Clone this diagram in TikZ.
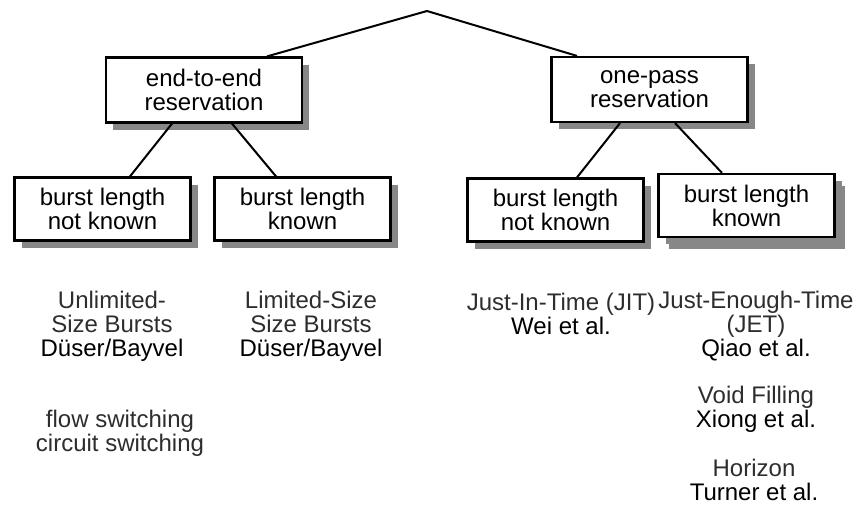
\documentclass[tikz,border=0pt]{standalone}
\usepackage{fontspec}
\setmainfont{Liberation Sans}
\definecolor{ShadowGray}{RGB}{135,135,135}
\definecolor{NoteGray}{RGB}{45,45,45}
\usetikzlibrary{positioning, calc, shadows}
\newcommand{\metodo}[1]{\textcolor{NoteGray}{#1}}

\begin{document}
\begin{tikzpicture}[x=0.5pt, y=-0.5pt, font=\fontsize{12}{12}\selectfont,
	bloque/.style={rectangle, draw=black, line width=1.1pt, fill=white, align=center, inner sep=0pt,
		minimum width=88pt, minimum height=31.5pt,
		general shadow={fill=ShadowGray, shadow xshift=3.5pt, shadow yshift=-3.5pt}},
	grande/.style={bloque, minimum width=98pt, minimum height=32.5pt},
	nota/.style={align=center, inner sep=0pt},
	rama/.style={line width=1pt}]
	\useasboundingbox (0,0) rectangle (854,504);
	\coordinate (r) at (427,11);
	% reservation types
	\node[grande] (e) at (204,90) {end-to-end\\reservation};
	\node[grande] (o) at (649.5,89.5) {one-pass\\reservation};
	% burst length
	\node[bloque] (e1) at (102.5,209) {burst length\\not known};
	\node[bloque] (e2) at (302.5,209) {burst length\\known};
	\node[bloque] (o1) at (555.5,210) {burst length\\not known};
	\node[bloque, general shadow={fill=ShadowGray, shadow xshift=5pt, shadow yshift=-6pt}] (o2) at (746.5,205.5) {burst length\\known};
	\draw[rama] (r) -- ($(e.north)+(63,0)$);
	\draw[rama] (r) -- ($(o.north)+(-72.5,0)$);
	\draw[rama] ($(e.south)+(-32,0)$) -- ($(e1.north)+(27.5,0)$);
	\draw[rama] ($(e.south)+(28,0)$) -- ($(e2.north)+(-26.5,0)$);
	\draw[rama] ($(o.south)+(-29.5,0)$) -- ($(o1.north)+(21.5,0)$);
	\draw[rama] ($(o.south)+(25.5,0)$) -- ($(o2.north)+(-24.5,0)$);
	% schemes and authors
	\node[nota] (unl) at (112,326) {\metodo{Unlimited-}\\\metodo{Size Bursts}\\D\"user/Bayvel};
	\node[nota] (lim) at (311,326) {\metodo{Limited-Size}\\\metodo{Size Bursts}\\D\"user/Bayvel};
	\node[nota] (flw) at (120,433) {\metodo{flow switching}\\\metodo{circuit switching}};
	\node[nota] (jit) at (561,314) {\metodo{Just-In-Time (JIT)}\\Wei et al.};
	\node[nota] (jet) at (756,326) {\metodo{Just-Enough-Time}\\\metodo{(JET)}\\Qiao et al.};
	\node[nota] (vf) at (756,409.5) {\metodo{Void Filling}\\Xiong et al.};
	\node[nota] (hor) at (754,480) {\metodo{Horizon}\\Turner et al.};
\end{tikzpicture}
\end{document}
